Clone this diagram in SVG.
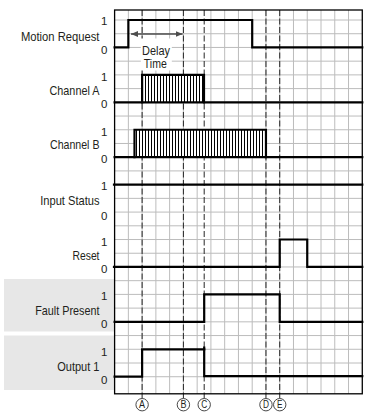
<svg xmlns="http://www.w3.org/2000/svg" width="373" height="419" viewBox="0 0 373 419">
<style>
.bg{fill:#e7e7e7}
.grid line{stroke:#bcbcbc;stroke-width:1}
.evt{stroke:#262626;stroke-width:1;stroke-dasharray:6 2.5;fill:none}
.sig{stroke:#000;stroke-width:2.2;fill:none;stroke-linejoin:miter;stroke-linecap:square}
.lbl{font-family:"Liberation Sans",Arial,sans-serif;font-size:13px;fill:#231f20;text-anchor:end}
.dig{font-family:"Liberation Sans",Arial,sans-serif;font-size:11.5px;fill:#231f20;text-anchor:end}
.mark circle{fill:#fff;stroke:#333;stroke-width:0.9}
.mark text{font-family:"Liberation Sans",Arial,sans-serif;font-size:10px;fill:#231f20;text-anchor:middle}
.dly{font-family:"Liberation Sans",Arial,sans-serif;font-size:12.5px;fill:#231f20;text-anchor:middle}
.arr{stroke:#4d4d4d;stroke-width:1.3;fill:none}
</style>
<defs>
<pattern id="hatch" patternUnits="userSpaceOnUse" x="0" y="0" width="3" height="10">
<rect x="0" y="0" width="3" height="10" fill="#fff"/>
<line x1="1.5" y1="0" x2="1.5" y2="10" stroke="#000" stroke-width="1"/>
</pattern>
<marker id="ah" viewBox="0 0 7 6" refX="7" refY="3" markerWidth="7" markerHeight="6" markerUnits="userSpaceOnUse" orient="auto-start-reverse">
<path d="M0,0 L7,3 L0,6 Z" fill="#4d4d4d"/>
</marker>
</defs>

<rect class="bg" x="4" y="279" width="110.6" height="52.5"/>
<rect class="bg" x="4" y="335.5" width="110.6" height="54.5"/>

<g id="grid" class="grid">
<line x1="128.36" y1="10" x2="128.36" y2="393.8"/>
<line x1="142.12" y1="10" x2="142.12" y2="393.8"/>
<line x1="155.88" y1="10" x2="155.88" y2="393.8"/>
<line x1="169.64" y1="10" x2="169.64" y2="393.8"/>
<line x1="183.4" y1="10" x2="183.4" y2="393.8"/>
<line x1="197.16" y1="10" x2="197.16" y2="393.8"/>
<line x1="210.92" y1="10" x2="210.92" y2="393.8"/>
<line x1="224.68" y1="10" x2="224.68" y2="393.8"/>
<line x1="238.44" y1="10" x2="238.44" y2="393.8"/>
<line x1="252.2" y1="10" x2="252.2" y2="393.8"/>
<line x1="265.96" y1="10" x2="265.96" y2="393.8"/>
<line x1="279.72" y1="10" x2="279.72" y2="393.8"/>
<line x1="293.48" y1="10" x2="293.48" y2="393.8"/>
<line x1="307.24" y1="10" x2="307.24" y2="393.8"/>
<line x1="321" y1="10" x2="321" y2="393.8"/>
<line x1="334.76" y1="10" x2="334.76" y2="393.8"/>
<line x1="348.52" y1="10" x2="348.52" y2="393.8"/>
<line x1="114.6" y1="20" x2="362.28" y2="20"/>
<line x1="114.6" y1="33.72" x2="362.28" y2="33.72"/>
<line x1="114.6" y1="47.44" x2="362.28" y2="47.44"/>
<line x1="114.6" y1="61.16" x2="362.28" y2="61.16"/>
<line x1="114.6" y1="74.88" x2="362.28" y2="74.88"/>
<line x1="114.6" y1="88.6" x2="362.28" y2="88.6"/>
<line x1="114.6" y1="102.32" x2="362.28" y2="102.32"/>
<line x1="114.6" y1="116.04" x2="362.28" y2="116.04"/>
<line x1="114.6" y1="129.76" x2="362.28" y2="129.76"/>
<line x1="114.6" y1="143.48" x2="362.28" y2="143.48"/>
<line x1="114.6" y1="157.2" x2="362.28" y2="157.2"/>
<line x1="114.6" y1="170.92" x2="362.28" y2="170.92"/>
<line x1="114.6" y1="184.64" x2="362.28" y2="184.64"/>
<line x1="114.6" y1="198.36" x2="362.28" y2="198.36"/>
<line x1="114.6" y1="212.08" x2="362.28" y2="212.08"/>
<line x1="114.6" y1="225.8" x2="362.28" y2="225.8"/>
<line x1="114.6" y1="239.52" x2="362.28" y2="239.52"/>
<line x1="114.6" y1="253.24" x2="362.28" y2="253.24"/>
<line x1="114.6" y1="266.96" x2="362.28" y2="266.96"/>
<line x1="114.6" y1="280.68" x2="362.28" y2="280.68"/>
<line x1="114.6" y1="294.4" x2="362.28" y2="294.4"/>
<line x1="114.6" y1="308.12" x2="362.28" y2="308.12"/>
<line x1="114.6" y1="321.84" x2="362.28" y2="321.84"/>
<line x1="114.6" y1="335.56" x2="362.28" y2="335.56"/>
<line x1="114.6" y1="349.28" x2="362.28" y2="349.28"/>
<line x1="114.6" y1="363" x2="362.28" y2="363"/>
<line x1="114.6" y1="376.72" x2="362.28" y2="376.72"/>
</g>

<g id="connectors">
<line class="evt" x1="142.12" y1="10" x2="142.12" y2="398.4"/>
<line class="evt" x1="183.4" y1="10" x2="183.4" y2="398.4"/>
<line class="evt" x1="204.2" y1="10" x2="204.2" y2="398.4"/>
<line class="evt" x1="265.96" y1="10" x2="265.96" y2="398.4"/>
<line class="evt" x1="279.72" y1="10" x2="279.72" y2="398.4"/>
</g>

<g id="delay-time">
<rect x="140.8" y="38.5" width="31" height="32" fill="#fff"/>
<line class="arr" x1="131" y1="34" x2="182.6" y2="34" marker-start="url(#ah)" marker-end="url(#ah)"/>
<text class="dly" x="156" y="54.5" textLength="28" lengthAdjust="spacingAndGlyphs">Delay</text>
<text class="dly" x="155.3" y="68.3" textLength="23" lengthAdjust="spacingAndGlyphs">Time</text>
</g>

<g id="motion-request">
<path class="sig" d="M114.6,47.44 H128.36 V20 H252.2 V47.44 H362.28"/>
<text class="lbl" x="99.5" y="40.5" textLength="78.6" lengthAdjust="spacingAndGlyphs">Motion Request</text>
<text class="dig" x="107.5" y="25">1</text>
<text class="dig" x="107.5" y="54">0</text>
</g>

<g id="channel-a">
<rect x="142.12" y="74.88" width="61.88" height="27.44" fill="url(#hatch)"/>
<path class="sig" d="M114.6,102.32 H362.28"/>
<path class="sig" d="M142.12,102.32 V74.88 H204 V102.32"/>
<text class="lbl" x="99.5" y="95" textLength="50" lengthAdjust="spacingAndGlyphs">Channel A</text>
<text class="dig" x="107.5" y="81.3">1</text>
<text class="dig" x="107.5" y="108.4">0</text>
</g>

<g id="channel-b">
<rect x="134.5" y="129.76" width="131.46" height="27.44" fill="url(#hatch)"/>
<path class="sig" d="M114.6,157.2 H362.28"/>
<path class="sig" d="M134.5,157.2 V129.76 H265.96 V157.2"/>
<text class="lbl" x="99.5" y="148.7" textLength="49.5" lengthAdjust="spacingAndGlyphs">Channel B</text>
<text class="dig" x="107.5" y="135.6">1</text>
<text class="dig" x="107.5" y="163.4">0</text>
</g>

<g id="input-status">
<path class="sig" d="M114,184.64 H362.28"/>
<text class="lbl" x="99.5" y="204.5" textLength="59.3" lengthAdjust="spacingAndGlyphs">Input Status</text>
<text class="dig" x="107.5" y="190.2">1</text>
<text class="dig" x="107.5" y="219.5">0</text>
</g>

<g id="reset">
<path class="sig" d="M114,266.96 H279.72 V239.52 H307.24 V266.96 H362.28"/>
<text class="lbl" x="99.5" y="260" textLength="27" lengthAdjust="spacingAndGlyphs">Reset</text>
<text class="dig" x="107.5" y="245.5">1</text>
<text class="dig" x="107.5" y="273.3">0</text>
</g>

<g id="fault-present">
<path class="sig" d="M114.6,321.84 H204.2 V294.4 H279.72 V321.84 H362.28"/>
<text class="lbl" x="99.5" y="315" textLength="64.3" lengthAdjust="spacingAndGlyphs">Fault Present</text>
<text class="dig" x="107.5" y="300.4">1</text>
<text class="dig" x="107.5" y="327.8">0</text>
</g>

<g id="output-1">
<path class="sig" d="M114.6,376.72 H142.12 V349.28 H204.2"/>
<path class="sig" d="M204.2,347.6 V376.2 H362.28"/>
<text class="lbl" x="99.5" y="370.5" textLength="42.3" lengthAdjust="spacingAndGlyphs">Output 1</text>
<text class="dig" x="107.5" y="355.6">1</text>
<text class="dig" x="107.5" y="384.2">0</text>
</g>

<rect id="frame" x="114.6" y="10" width="247.68" height="383.8" fill="none" stroke="#000" stroke-width="1.3"/>

<g id="markers" class="mark">
<g id="mark-a"><circle cx="142.12" cy="404.7" r="6.2"/><text x="142.12" y="408.3" textLength="6" lengthAdjust="spacingAndGlyphs">A</text></g>
<g id="mark-b"><circle cx="183.4" cy="404.7" r="6.2"/><text x="183.4" y="408.3" textLength="6" lengthAdjust="spacingAndGlyphs">B</text></g>
<g id="mark-c"><circle cx="204.2" cy="404.7" r="6.2"/><text x="204.2" y="408.3" textLength="6" lengthAdjust="spacingAndGlyphs">C</text></g>
<g id="mark-d"><circle cx="265.96" cy="404.7" r="6.2"/><text x="265.96" y="408.3" textLength="6" lengthAdjust="spacingAndGlyphs">D</text></g>
<g id="mark-e"><circle cx="279.72" cy="404.7" r="6.2"/><text x="279.72" y="408.3" textLength="5.5" lengthAdjust="spacingAndGlyphs">E</text></g>
</g>
</svg>
